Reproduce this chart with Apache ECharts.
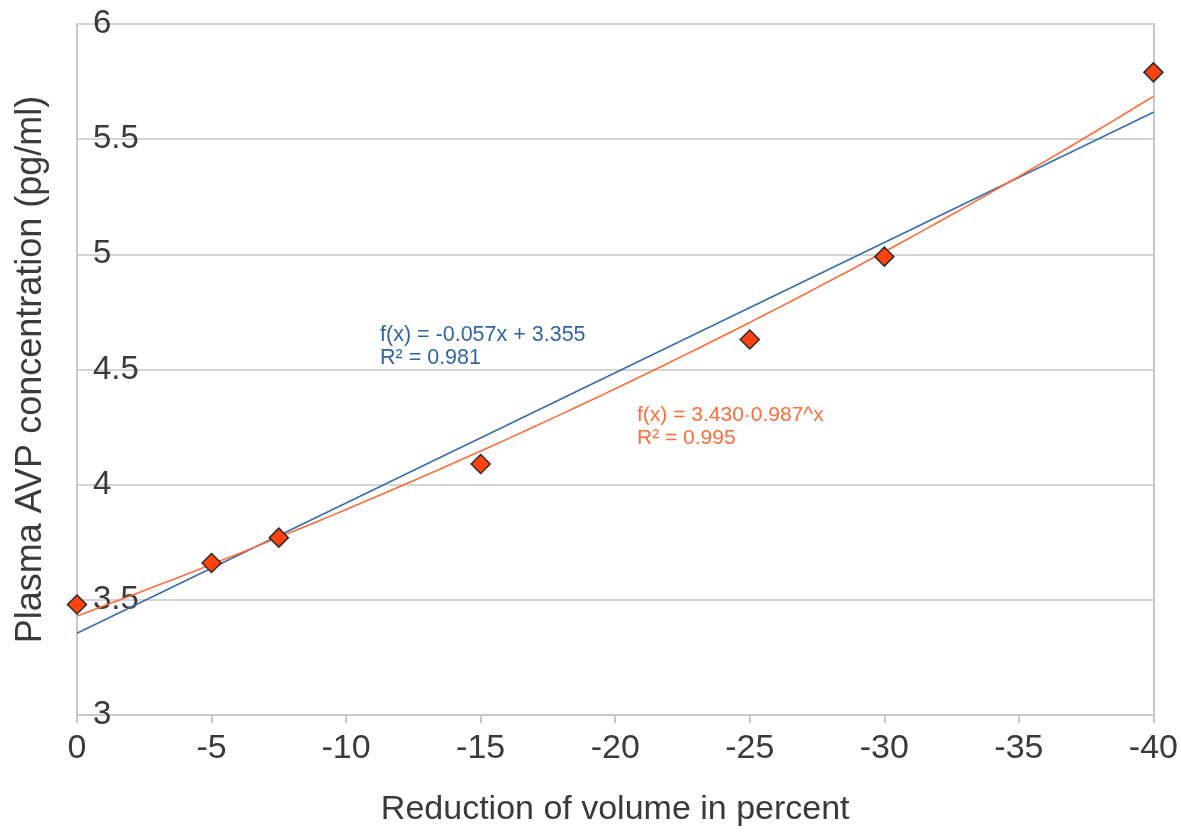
<!DOCTYPE html>
<html>
<head>
<meta charset="utf-8">
<script src="https://cdn.jsdelivr.net/npm/echarts@6/dist/echarts.min.js"></script>
<style>html,body{margin:0;padding:0;background:#fff}#c{width:1181px;height:832px}</style>
</head>
<body>
<div id="c"></div>
<script>
// Data
var volumeReduction = [0, -5, -7.5, -15, -25, -30, -40];
var avpConcentration = [3.48, 3.66, 3.77, 4.09, 4.63, 4.99, 5.79];
var xTicks = [0, -5, -10, -15, -20, -25, -30, -35, -40];
var yTicks = [3, 3.5, 4, 4.5, 5, 5.5, 6];
var linearLabel = ['f(x) = -0.057x + 3.355', 'R² = 0.981'];
var expLabel = ['f(x) = 3.430·0.987^x', 'R² = 0.995'];

// Least-squares trend lines computed from the data (as the original spreadsheet did)
function fit(xs, ys) {
  var n = xs.length, mx = 0, my = 0, i;
  for (i = 0; i < n; i++) { mx += xs[i]; my += ys[i]; }
  mx /= n; my /= n;
  var sxy = 0, sxx = 0;
  for (i = 0; i < n; i++) { sxy += (xs[i] - mx) * (ys[i] - my); sxx += (xs[i] - mx) * (xs[i] - mx); }
  var b = sxy / sxx;
  return { slope: b, intercept: my - b * mx };
}
var lin = fit(volumeReduction, avpConcentration);
var logFit = fit(volumeReduction, avpConcentration.map(Math.log));
var xMin = xTicks[xTicks.length - 1], xMax = xTicks[0];
var linearLine = [[xMax, lin.intercept + lin.slope * xMax], [xMin, lin.intercept + lin.slope * xMin]];
var expLine = [];
for (var x = xMax; x >= xMin - 1e-9; x -= 0.5) {
  expLine.push([x, Math.exp(logFit.intercept + logFit.slope * x)]);
}
var pts = volumeReduction.map(function (v, i) { return [v, avpConcentration[i]]; });

var font = 'Liberation Sans, Arial, sans-serif';
var chart = echarts.init(document.getElementById('c'));
chart.setOption({
  animation: false,
  backgroundColor: '#fff',
  grid: { left: 77, right: 25, top: 24, bottom: 108, containLabel: false },
  xAxis: {
    type: 'value', inverse: true, min: xMin, max: xMax, interval: 5,
    name: 'Reduction of volume in percent', nameLocation: 'middle', nameGap: 78,
    nameTextStyle: { fontFamily: font, fontSize: 34, color: '#3a3a3a' },
    axisLine: { show: true, onZero: false, lineStyle: { color: '#c8c8c8', width: 2 } },
    axisTick: { show: true, length: 8, lineStyle: { color: '#c8c8c8', width: 2 } },
    axisLabel: { fontFamily: font, fontSize: 34, color: '#3a3a3a', margin: 17 },
    splitLine: { show: false }
  },
  yAxis: [{
    type: 'value', min: 3, max: 6, interval: 0.5,
    name: 'Plasma AVP concentration (pg/ml)', nameLocation: 'middle', nameGap: 28,
    nameTextStyle: { fontFamily: font, fontSize: 36, color: '#3a3a3a' },
    axisLine: { show: true, lineStyle: { color: '#c8c8c8', width: 2 } },
    axisTick: { show: false },
    axisLabel: { inside: true, fontFamily: font, fontSize: 33, color: '#3a3a3a', margin: 16,
      formatter: function (v) { return String(v); } },
    splitLine: { show: true, lineStyle: { color: '#d4d4d4', width: 2 } }
  }, {
    type: 'value', position: 'right', min: 3, max: 6, interval: 0.5,
    axisLine: { show: true, lineStyle: { color: '#c8c8c8', width: 2 } },
    axisTick: { show: false }, axisLabel: { show: false }, splitLine: { show: false }
  }],
  series: [{
    type: 'line', data: linearLine, showSymbol: false, symbol: 'none', z: 2,
    lineStyle: { color: '#3a6ea8', width: 1.6 }
  }, {
    type: 'line', data: expLine, showSymbol: false, symbol: 'none', smooth: false, z: 3,
    lineStyle: { color: '#ff6d3a', width: 1.6 }
  }, {
    type: 'scatter', data: pts, symbol: 'diamond', symbolSize: 19, z: 5,
    itemStyle: { color: '#ff420e', opacity: 1, borderColor: '#2b2b2b', borderWidth: 1.5 }
  }],
  graphic: [{
    type: 'text', left: 380, top: 324,
    style: { text: linearLabel.join('\n'), fontFamily: font, fontSize: 21.5, lineHeight: 23, fill: '#2f65a3' }
  }, {
    type: 'text', left: 637, top: 404,
    style: { text: expLabel.join('\n'), fontFamily: font, fontSize: 21, lineHeight: 23, fill: '#ff6d3a' }
  }]
});
</script>
</body>
</html>
